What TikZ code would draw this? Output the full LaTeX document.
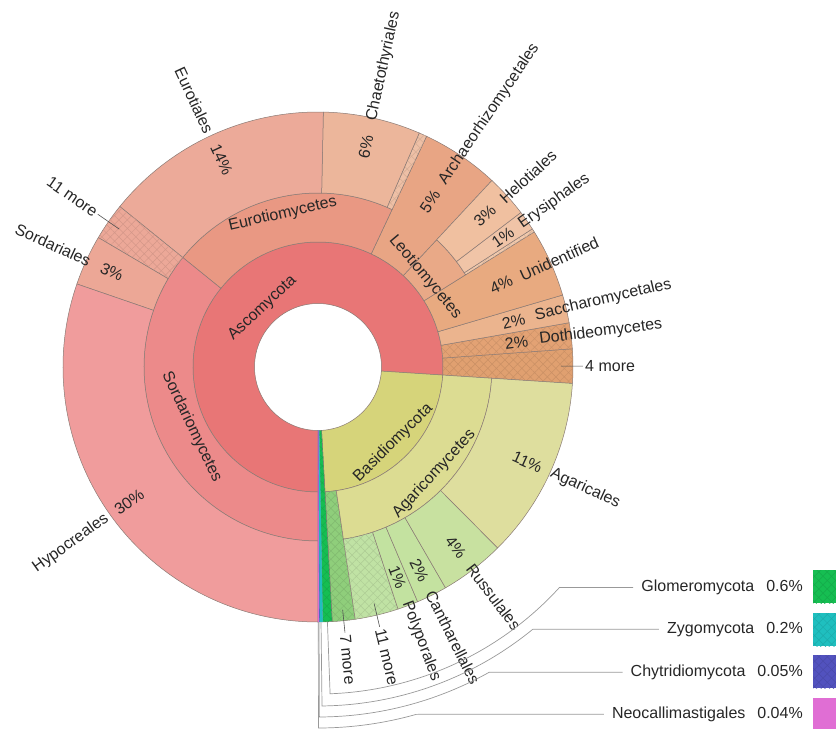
\documentclass[tikz,border=0pt]{standalone}
\usepackage{fontspec}
\setmainfont{Liberation Sans}
\usetikzlibrary{patterns.meta}

\definecolor{asco}{HTML}{E87676}
\definecolor{basi}{HTML}{D6D47A}
\definecolor{glomero}{HTML}{16BE52}
\definecolor{zygo}{HTML}{1FBFBF}
\definecolor{chytri}{HTML}{5252BE}
\definecolor{neo}{HTML}{E06ED4}
\definecolor{fourm}{HTML}{E0A070}
\definecolor{dothi}{HTML}{E3A274}
\definecolor{sacch}{HTML}{EBB48E}
\definecolor{unid}{HTML}{E8AA80}
\definecolor{leotio}{HTML}{E9A987}
\definecolor{archaeo}{HTML}{E8A584}
\definecolor{eurotio}{HTML}{E99883}
\definecolor{sordario}{HTML}{EC8A8A}
\definecolor{leosl}{HTML}{F1C9AC}
\definecolor{erysi}{HTML}{F0C4A7}
\definecolor{helot}{HTML}{F0C0A0}
\definecolor{eurosl}{HTML}{EEC0A6}
\definecolor{chaeto}{HTML}{ECB69B}
\definecolor{eurot}{HTML}{ECAA99}
\definecolor{sordm}{HTML}{ECA898}
\definecolor{sordl}{HTML}{ECA796}
\definecolor{hypo}{HTML}{F09C9C}
\definecolor{sevenm}{HTML}{8FCE7B}
\definecolor{agaricm}{HTML}{DCDC92}
\definecolor{agarm}{HTML}{C0E2A4}
\definecolor{polyp}{HTML}{C2E2A0}
\definecolor{canth}{HTML}{C4E2A0}
\definecolor{russ}{HTML}{C8E1A0}
\definecolor{agarl}{HTML}{DEDE9E}
\definecolor{secline}{HTML}{8A7A74}
\definecolor{txt}{HTML}{262626}

% sector: estilo, desde, hasta, radio interior, radio exterior
\newcommand{\krsec}[5]{\filldraw[#1] (#2:#4pt) arc[start angle=#2,end angle=#3,radius=#4pt] -- (#3:#5pt) arc[start angle=#3,end angle=#2,radius=#5pt] -- cycle;}

\begin{document}
\begin{tikzpicture}[x=1pt,y=1pt,
    sec/.style={draw=secline, line width=0.5pt, fill=#1},
    hatch/.style={postaction={pattern={Hatch[angle=45,distance=6pt,line width=0.5pt]}, pattern color=#1!90!black}},
    lbl/.style={font=\fontsize{16}{18}\selectfont, text=txt, inner sep=0pt},
    tick/.style={draw=txt!80, line width=0.6pt},
    lead/.style={draw=black!40, line width=0.7pt},
    legend/.style={lbl, anchor=east, inner xsep=8pt}]
    \useasboundingbox (-318,-362) rectangle (518,367);

    % Filos
    \krsec{sec=asco}{-3.7}{270}{63.5}{125}
    \krsec{sec=basi}{-86.8}{-3.7}{63.5}{125}

    % Clases
    \krsec{sec=fourm, hatch=fourm}{-3.7}{4.1}{125}{255}
    \krsec{sec=dothi, hatch=dothi}{4.1}{10}{125}{255}
    \krsec{sec=sacch}{10}{16.4}{125}{255}
    \krsec{sec=unid}{16.4}{32}{125}{255}
    \krsec{sec=leotio}{32}{47}{125}{174}
    \krsec{sec=archaeo}{47}{64.8}{125}{255}
    \krsec{sec=eurotio}{64.8}{141}{125}{174}
    \krsec{sec=sordario}{141}{270}{125}{174}
    \krsec{sec=sevenm, hatch=sevenm}{-86.8}{-81.6}{125}{255}
    \krsec{sec=agaricm}{-81.6}{-3.7}{125}{174}

    % Ordenes
    \krsec{sec=leosl, hatch=leosl}{32}{32.8}{174}{255}
    \krsec{sec=erysi}{32.8}{37.3}{174}{255}
    \krsec{sec=helot}{37.3}{47}{174}{255}
    \krsec{sec=eurosl, hatch=eurosl}{64.8}{66.6}{174}{255}
    \krsec{sec=chaeto}{66.6}{88.8}{174}{255}
    \krsec{sec=eurot}{88.8}{141}{174}{255}
    \krsec{sec=sordm, hatch=sordm}{141}{149.5}{174}{255}
    \krsec{sec=sordl}{149.5}{161}{174}{255}
    \krsec{sec=hypo}{161}{270}{174}{255}
    \krsec{sec=agarm, hatch=agarm}{-81.6}{-71.7}{174}{255}
    \krsec{sec=polyp}{-71.7}{-67}{174}{255}
    \krsec{sec=canth}{-67}{-60}{174}{255}
    \krsec{sec=russ}{-60}{-45.2}{174}{255}
    \krsec{sec=agarl}{-45.2}{-3.7}{174}{255}

    % Filos pequenos
    \krsec{sec=glomero, hatch=glomero}{-88.96}{-86.8}{63.5}{255}
    \krsec{draw=zygo, fill=zygo, line width=0.3pt}{-89.68}{-88.96}{63.5}{255}
    \krsec{draw=chytri, fill=chytri, line width=0.3pt}{-89.86}{-89.68}{63.5}{255}
    \krsec{draw=neo, fill=neo, line width=0.3pt}{-90}{-89.86}{63.5}{255}

    % Etiquetas interiores
    \node[lbl, rotate=43.2] (ascoL) at (133.2:81pt) {Ascomycota};
    \node[lbl, rotate=44.7] (basiL) at (-45.3:107pt) {Basidiomycota};
    \node[lbl, rotate=13] (eurotioL) at (103:157pt) {Eurotiomycetes};
    \node[lbl, rotate=-64.5] (sordarioL) at (205.5:140pt) {Sordariomycetes};
    \node[lbl, rotate=-50] (leotioL) at (40:140pt) {Leotiomycetes};
    \node[lbl, rotate=47.35] (agaricmL) at (-42.65:158pt) {Agaricomycetes};

    % Etiquetas exteriores (lado izquierdo)
    \node[lbl, rotate=35.5] (hypoP) at (215.5:232pt) {30\%};
    \node[lbl, anchor=east, rotate=35.5] (hypoL) at (215.5:259pt) {Hypocreales};
    \node[lbl, rotate=-24.75] (sordlP) at (155.25:227pt) {3\%};
    \node[lbl, anchor=east, rotate=-24.75] (sordlL) at (155.25:251pt) {Sordariales};
    \node[lbl, anchor=east, rotate=-34.75, inner sep=2pt] (sordmL) at (145.25:268pt) {11 more};
    \node[lbl, rotate=-65.1] (eurotP) at (114.9:229pt) {14\%};
    \node[lbl, anchor=east, rotate=-65.1] (eurotL) at (114.9:258pt) {Eurotiales};

    % Etiquetas exteriores (lado derecho)
    \node[lbl, rotate=77.7] (chaetoP) at (77.7:225pt) {6\%};
    \node[lbl, anchor=west, rotate=77.7] (chaetoL) at (77.7:252pt) {Chaetothyriales};
    \node[lbl, rotate=55.9] (archaeoP) at (55.9:200pt) {5\%};
    \node[lbl, anchor=west, rotate=55.9] (archaeoL) at (55.9:222pt) {Archaeorhizomycetales};
    \node[lbl, rotate=42.15] (helotP) at (42.15:225pt) {3\%};
    \node[lbl, anchor=west, rotate=42.15] (helotL) at (42.15:248pt) {Helotiales};
    \node[lbl, rotate=35.05] (erysiP) at (35.05:226pt) {1\%};
    \node[lbl, anchor=west, rotate=35.05] (erysiL) at (35.05:247pt) {Erysiphales};
    \node[lbl, rotate=24.2] (unidP) at (24.2:201pt) {4\%};
    \node[lbl, anchor=west, rotate=24.2] (unidL) at (24.2:222pt) {Unidentified};
    \node[lbl, rotate=13.2] (sacchP) at (13.2:201pt) {2\%};
    \node[lbl, anchor=west, rotate=13.2] (sacchL) at (13.2:223pt) {Saccharomycetales};
    \node[lbl, rotate=7.05] (dothiP) at (7.05:200pt) {2\%};
    \node[lbl, anchor=west, rotate=7.05] (dothiL) at (7.05:223pt) {Dothideomycetes};
    \node[lbl, anchor=west, rotate=0.2, inner sep=2pt] (fourmL) at (0.2:265pt) {4 more};
    \node[lbl, rotate=-24.45] (agarlP) at (-24.45:230pt) {11\%};
    \node[lbl, anchor=west, rotate=-24.45] (agarlL) at (-24.45:256pt) {Agaricales};
    \node[lbl, rotate=-52.6] (russP) at (-52.6:227pt) {4\%};
    \node[lbl, anchor=west, rotate=-52.6] (russL) at (-52.6:250pt) {Russulales};
    \node[lbl, rotate=-63.5] (canthP) at (-63.5:227pt) {2\%};
    \node[lbl, anchor=west, rotate=-63.5] (canthL) at (-63.5:251pt) {Cantharellales};
    \node[lbl, rotate=-69.35] (polypP) at (-69.35:225pt) {1\%};
    \node[lbl, anchor=west, rotate=-69.35] (polypL) at (-69.35:251pt) {Polyporales};
    \node[lbl, anchor=west, rotate=-76.65, inner sep=2pt] (agarmL) at (-76.65:267pt) {11 more};
    \node[lbl, anchor=west, rotate=-84.2, inner sep=2pt] (sevenmL) at (-84.2:267pt) {7 more};

    % Marcas de "more"
    \coordinate (sordmT) at (145.25:242pt);
    \coordinate (fourmT) at (0.2:243pt);
    \coordinate (agarmT) at (-76.65:243pt);
    \coordinate (sevenmT) at (-84.2:244pt);
    \draw[tick] (sordmT) -- (sordmL.east);
    \draw[tick] (fourmT) -- (fourmL.west);
    \draw[tick] (agarmT) -- (agarmL.west);
    \draw[tick] (sevenmT) -- (sevenmL.west);

    % Leyenda
    \node[legend] (glomeroL) at (493,-220.5) {Glomeromycota\hspace{12pt}0.6\%};
    \node[legend] (zygoL) at (493,-262.3) {Zygomycota\hspace{12pt}0.2\%};
    \node[legend] (chytriL) at (493,-305.3) {Chytridiomycota\hspace{12pt}0.05\%};
    \node[legend] (neoL) at (493,-347.3) {Neocallimastigales\hspace{12pt}0.04\%};
    \fill[glomero, hatch=glomero] (495,-203) rectangle (518,-236);
    \fill[zygo, hatch=zygo] (495,-246) rectangle (518,-279);
    \fill[chytri, hatch=chytri] (495,-288) rectangle (518,-321);
    \fill[neo] (495,-331) rectangle (518,-362);

    % Lineas guia
    \coordinate (glomeroT) at (-87.88:255pt);
    \coordinate (zygoT) at (-89.32:255pt);
    \coordinate (chytriT) at (-89.77:255pt);
    \coordinate (neoT) at (-89.93:255pt);
    \draw[lead] (glomeroT) -- (-87.88:327pt) arc[start angle=-87.88, end angle=-42.4, radius=327pt] -- (glomeroL.west);
    \draw[lead] (zygoT) -- (-89.32:339pt) arc[start angle=-89.32, end angle=-50.7, radius=339pt] -- (zygoL.west);
    \draw[lead] (chytriT) -- (-89.77:350pt) arc[start angle=-89.77, end angle=-60.7, radius=350pt] -- (chytriL.west);
    \draw[lead] (neoT) -- (-89.93:361pt) arc[start angle=-89.93, end angle=-74.2, radius=361pt] -- (neoL.west);
\end{tikzpicture}
\end{document}
